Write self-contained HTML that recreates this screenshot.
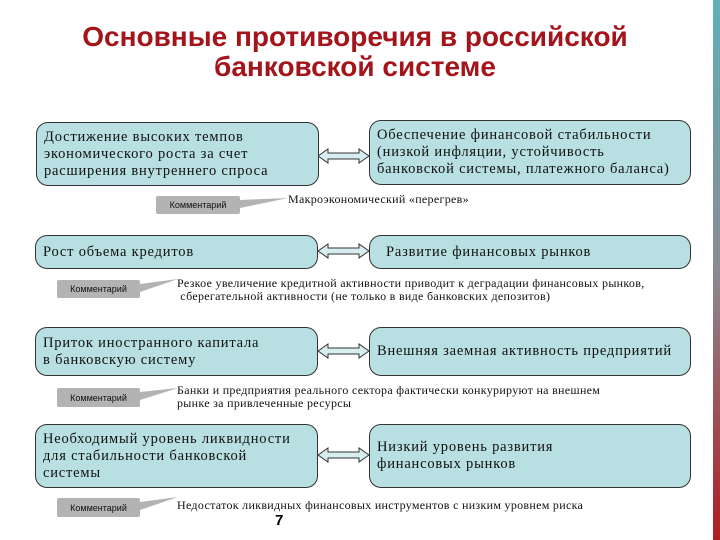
<!DOCTYPE html>
<html><head><meta charset="utf-8"><style>
body{margin:0;width:720px;height:540px;background:#fff;position:relative;overflow:hidden;font-family:"Liberation Serif","Noto Serif CJK SC",serif;}
.t{position:absolute;left:0;width:710px;text-align:center;font-family:"Liberation Sans",sans-serif;font-weight:bold;font-size:28px;color:#a3151b;line-height:30px;}
.b{position:absolute;background:#b8dfe2;border:1.5px solid #333;border-radius:12px;box-sizing:border-box;font-size:14.5px;line-height:17px;color:#111;letter-spacing:0.8px;padding:0 7px;display:flex;align-items:center;white-space:nowrap;}
.c{position:absolute;background:#b3b3b3;font-family:"Liberation Sans",sans-serif;font-size:9px;color:#111;display:flex;align-items:center;justify-content:center;border-radius:2px;}
.n{position:absolute;font-size:12px;line-height:13px;color:#111;white-space:nowrap;letter-spacing:0.3px;}
.bar{position:absolute;left:713px;top:0;width:7px;height:540px;background:linear-gradient(#5fb0b8,#8a8a92 50%,#b01c22);}
</style></head><body>
<div class="t" style="top:22px">Основные противоречия в российской<br>банковской системе</div>
<div class="bar"></div>
<svg width="720" height="540" style="position:absolute;left:0;top:0">
<g fill="#d6eef0" stroke="#333" stroke-width="1">
<path d="M318 156 l10 -7 v4 h31 v-4 l10 7 l-10 7 v-4 h-31 v4z"/>
<path d="M318 251 l10 -7 v4 h31 v-4 l10 7 l-10 7 v-4 h-31 v4z"/>
<path d="M318 351 l10 -7 v4 h31 v-4 l10 7 l-10 7 v-4 h-31 v4z"/>
<path d="M318 455 l10 -7 v4 h31 v-4 l10 7 l-10 7 v-4 h-31 v4z"/>
</g>
<g fill="#b3b3b3">
<polygon points="240,200 288,198 240,208"/>
<polygon points="140,284 178,279 140,292"/>
<polygon points="140,392 178,388 140,400"/>
<polygon points="140,502 178,497 140,510"/>
</g>
</svg>
<div class="b" style="left:36px;top:122px;width:283px;height:64px">Достижение высоких темпов<br>экономического роста за счет<br>расширения внутреннего спроса</div>
<div class="b" style="left:369px;top:120px;width:322px;height:65px">Обеспечение финансовой стабильности<br>(низкой инфляции, устойчивость<br>банковской системы, платежного баланса)</div>
<div class="c" style="left:156px;top:196px;width:84px;height:18px">Комментарий</div>
<div class="n" style="left:288px;top:193px">Макроэкономический «перегрев»</div>
<div class="b" style="left:35px;top:235px;width:283px;height:34px">Рост объема кредитов</div>
<div class="b" style="left:369px;top:235px;width:322px;height:34px;padding-left:16px">Развитие финансовых рынков</div>
<div class="c" style="left:57px;top:280px;width:83px;height:18px">Комментарий</div>
<div class="n" style="left:177px;top:277px">Резкое увеличение кредитной активности приводит к деградации финансовых рынков,<br>&nbsp;сберегательной активности (не только в виде банковских депозитов)</div>
<div class="b" style="left:35px;top:327px;width:283px;height:49px">Приток иностранного капитала<br>в банковскую систему</div>
<div class="b" style="left:369px;top:327px;width:322px;height:49px">Внешняя заемная активность предприятий</div>
<div class="c" style="left:57px;top:388px;width:83px;height:19px">Комментарий</div>
<div class="n" style="left:177px;top:384px">Банки и предприятия реального сектора фактически конкурируют на внешнем<br>рынке за привлеченные ресурсы</div>
<div class="b" style="left:35px;top:424px;width:283px;height:64px">Необходимый уровень ликвидности<br>для стабильности банковской<br>системы</div>
<div class="b" style="left:369px;top:424px;width:322px;height:64px">Низкий уровень развития<br>финансовых рынков</div>
<div class="c" style="left:57px;top:498px;width:83px;height:19px">Комментарий</div>
<div class="n" style="left:177px;top:499px">Недостаток ликвидных финансовых инструментов с низким уровнем риска</div>
<div style="position:absolute;left:275px;top:512px;font-family:'Liberation Sans',sans-serif;font-weight:bold;font-size:15px">7</div>
</body></html>
